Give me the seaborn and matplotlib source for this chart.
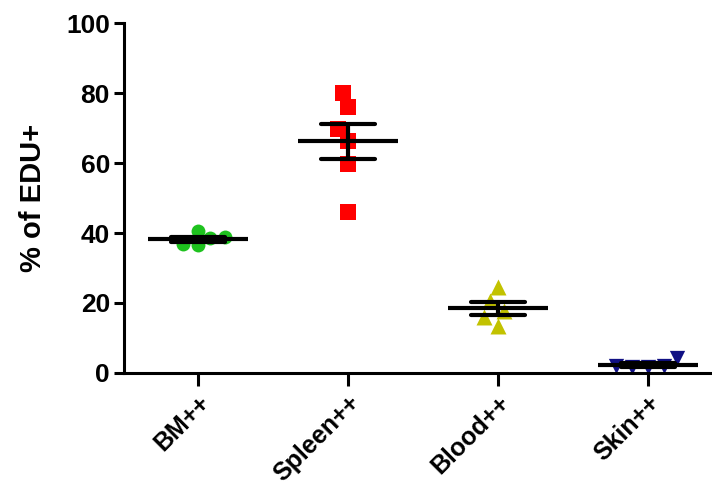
import numpy as np
import pandas as pd
import seaborn as sns
import matplotlib.pyplot as plt

# data
categories = ["BM++", "Spleen++", "Blood++", "Skin++"]
bm = [38.5, 40.5, 36.5, 38.8, 37.0]
spleen = [80.1, 75.9, 69.6, 66.2, 59.7, 46.0]
blood = [24.5, 17.8, 13.5, 20.5, 16.0]
skin = [1.6, 2.0, 1.7, 1.9, 4.4]
colors = ["#1ec21e", "#ff0000", "#c2c200", "#101084"]
markers = ["o", "s", "^", "v"]
sizes = [10, 11, 11.5, 11]
yticks = [0, 20, 40, 60, 80, 100]

sns.set_style("ticks")
plt.rcParams["font.family"] = ["Liberation Sans", "DejaVu Sans"]
plt.rcParams["font.weight"] = "bold"

groups = [bm, spleen, blood, skin]
df = pd.DataFrame({
    "group": np.repeat(categories, [len(g) for g in groups]),
    "value": np.concatenate(groups),
})

fig = plt.figure(figsize=(7.12, 4.92), dpi=100)
ax = fig.add_axes([0.174, 0.242, 0.826, 0.711])

for cat, col, mk, sz in zip(categories, colors, markers, sizes):
    sns.swarmplot(data=df[df.group == cat], x="group", y="value", order=categories,
                  color=col, marker=mk, size=sz, linewidth=0, ax=ax, zorder=2)

# mean +/- SEM
sns.pointplot(data=df, x="group", y="value", order=categories, estimator="mean",
              errorbar="se", color="black", linestyle="none", marker="_",
              markersize=72, markeredgewidth=3, capsize=0.36,
              err_kws={"linewidth": 3}, ax=ax, zorder=5)

ax.set_ylim(0, 100)
ax.set_xlim(-0.493, 3.427)
ax.set_yticks(yticks)
ax.set_xlabel("")
ax.set_ylabel("% of EDU+", fontsize=21, fontweight="bold", color="black", labelpad=14)
sns.despine(ax=ax)
for s in ["left", "bottom"]:
    ax.spines[s].set_linewidth(2.2)
    ax.spines[s].set_color("black")
ax.tick_params(axis="both", width=2.2, labelsize=19, colors="black")
ax.tick_params(axis="y", length=7, pad=3)
ax.tick_params(axis="x", length=9, pad=4, labelsize=18)
plt.setp(ax.get_xticklabels(), rotation=45, ha="right", rotation_mode="anchor")

fig.savefig("out.png", dpi=100)
